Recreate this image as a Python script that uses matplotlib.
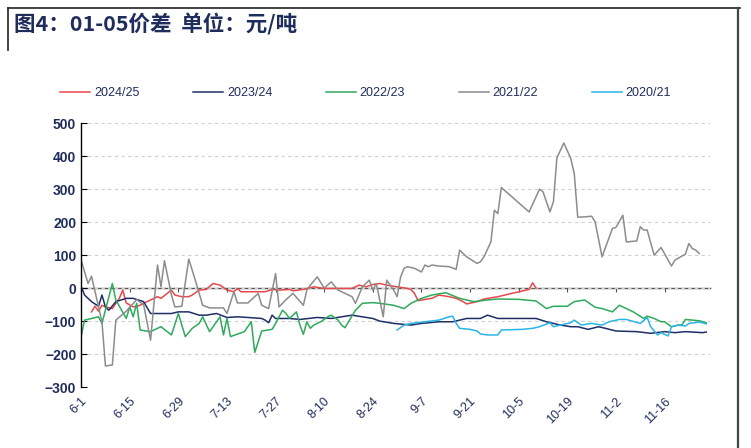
import matplotlib.pyplot as plt
from matplotlib.lines import Line2D

plt.rcParams["font.family"] = ["Liberation Sans", "Noto Sans CJK SC", "DejaVu Sans"]

# 横轴：距 6 月 1 日的天数
tick_days = [0, 14, 28, 42, 56, 70, 84, 98, 112, 126, 140, 154, 168]
tick_labels = ["6-1", "6-15", "6-29", "7-13", "7-27", "8-10", "8-24",
               "9-7", "9-21", "10-5", "10-19", "11-2", "11-16"]

# 2024/25
days_2425 = [3, 4, 5, 6, 7, 9, 11, 12, 13, 15, 17, 19, 22, 23, 26, 27, 29, 31, 32, 34,
             36, 38, 40, 42, 44, 45, 46, 53, 55, 57, 60, 61, 64, 67, 70, 74, 78, 80, 82, 84,
             86, 88, 91, 94, 95, 96, 97, 98, 101, 103, 106, 108, 110, 111, 114, 116, 120,
             124, 129, 130, 131]
vals_2425 = [-72, -55, -70, -52, -57, -62, -31, -6, -45, -57, -52, -41, -26, -31, -6, -21,
             -26, -26, -21, -6, -4, 14, 9, -6, -11, -1, -11, -11, -4, -6, -4, -8, -4, 4, -1,
             -1, -1, 9, 4, 11, 14, 9, 4, -1, -4, -16, -38, -36, -31, -21, -26, -31, -41,
             -48, -41, -33, -26, -16, -4, 16, 0]

# 2023/24
days_2324 = [0, 1, 3, 5, 6, 7, 8, 10, 13, 15, 18, 20, 26, 28, 31, 34, 36, 39, 42, 45, 48,
             52, 53, 54, 55, 56, 60, 63, 68, 72, 75, 78, 81, 84, 86, 90, 95, 98, 103, 107,
             111, 115, 117, 120, 131, 134, 138, 141, 143, 146, 149, 151, 154, 160, 164,
             168, 171, 174, 179, 180]
vals_2324 = [5, -21, -41, -55, -21, -57, -67, -41, -31, -31, -41, -77, -77, -72, -72, -82,
             -82, -77, -89, -87, -89, -92, -97, -105, -82, -92, -92, -95, -89, -92, -87,
             -82, -87, -92, -100, -107, -112, -107, -102, -102, -92, -92, -82, -92, -92,
             -102, -112, -117, -117, -125, -117, -122, -130, -132, -137, -132, -135, -132,
             -135, -133]

# 2022/23
days_2223 = [0, 1, 5, 6, 9, 10, 13, 14, 15, 16, 17, 20, 23, 26, 28, 30, 32, 34, 35, 37,
             40, 41, 42, 43, 47, 49, 50, 52, 55, 56, 58, 59, 60, 61, 62, 63, 64, 65, 66,
             67, 69, 71, 72, 74, 75, 76, 77, 79, 81, 84, 86, 90, 93, 95, 98, 101, 105, 109,
             113, 117, 120, 126, 131, 134, 136, 140, 142, 145, 148, 150, 153, 155, 159, 162,
             163, 165, 167, 168, 170, 172, 173, 174, 176, 178, 180]
vals_2223 = [-147, -97, -87, -107, 14, -36, -92, -57, -87, -46, -127, -132, -117, -142,
             -77, -147, -122, -107, -87, -132, -87, -142, -92, -147, -132, -102, -195, -130,
             -125, -107, -67, -77, -92, -82, -72, -112, -140, -102, -122, -112, -102, -87,
             -82, -97, -112, -120, -102, -67, -46, -44, -46, -52, -62, -46, -31, -21, -14,
             -31, -41, -36, -33, -34, -39, -62, -55, -55, -41, -36, -58, -62, -72, -52, -72,
             -92, -85, -92, -102, -102, -117, -112, -112, -95, -97, -99, -105]

# 2021/22
days_2122 = [0, 2, 3, 6, 7, 9, 10, 13, 16, 18, 20, 22, 23, 24, 26, 27, 29, 31, 33, 35, 37,
             41, 42, 44, 45, 48, 51, 52, 54, 56, 57, 59, 61, 64, 65, 66, 68, 70, 72, 74, 76,
             78, 79, 81, 83, 84, 85, 87, 88, 90, 91, 92, 93, 94, 96, 98, 99, 100, 101, 103,
             106, 108, 109, 111, 114, 115, 116, 118, 119, 120, 121, 129, 132, 133, 135, 136,
             137, 139, 141, 142, 143, 145, 147, 148, 150, 153, 154, 156, 157, 160, 161, 162,
             163, 165, 167, 170, 171, 174, 175, 176, 177, 178]
vals_2122 = [85, 14, 36, -102, -236, -233, -97, -70, -35, -50, -158, 70, 4, 83, -20, -57,
             -55, 88, 20, -52, -60, -60, -77, -11, -45, -45, -16, -52, -62, 44, -57, -35,
             -16, -52, -6, 9, 34, 0, 19, -6, -16, -26, -46, 4, 24, -6, 14, -87, 24, -6, -26,
             34, 60, 65, 60, 49, 70, 65, 70, 67, 65, 57, 115, 95, 75, 80, 95, 140, 236, 226,
             305, 231, 300, 292, 231, 262, 395, 440, 393, 347, 215, 216, 218, 201, 95, 181,
             184, 221, 140, 143, 186, 176, 176, 100, 123, 67, 85, 103, 135, 120, 115, 105]

# 2020/21
days_2021 = [91, 93, 95, 99, 103, 106, 107, 108, 109, 112, 114, 115, 117, 120, 121, 127,
             130, 132, 135, 136, 138, 141, 142, 144, 147, 150, 152, 155, 157, 161, 163, 164,
             166, 167, 169, 170, 172, 174, 175, 178, 180]
vals_2021 = [-127, -112, -107, -102, -97, -87, -85, -107, -122, -125, -130, -139, -142,
             -142, -127, -125, -122, -117, -105, -117, -112, -105, -97, -112, -107, -112,
             -102, -95, -95, -107, -89, -117, -142, -135, -145, -117, -112, -115, -107,
             -103, -108]

series = [
    ("2024/25", days_2425, vals_2425, "#e8474c"),
    ("2023/24", days_2324, vals_2324, "#1f2f66"),
    ("2022/23", days_2223, vals_2223, "#2eaa5c"),
    ("2021/22", days_2122, vals_2122, "#8c8c8c"),
    ("2020/21", days_2021, vals_2021, "#2bb4e6"),
]

navy = "#1f2d5c"
fig = plt.figure(figsize=(7.51, 4.48), dpi=100)
ax = fig.add_axes([0.108, 0.136, 0.837, 0.589])

for name, d, v, c in series:
    ax.plot(d, v, color=c, lw=1.1, label=name)

ymin, ymax = -300, 500
ax.set_xlim(0, 181)
ax.set_ylim(ymin, ymax)
ax.set_yticks(range(-300, 501, 100))
ax.grid(axis="y", color="#d0d0d0", ls=(0, (3, 3)), lw=0.8)
ax.set_axisbelow(True)

for s in ["top", "right", "bottom"]:
    ax.spines[s].set_visible(False)
ax.spines["left"].set_color("black")
ax.spines["left"].set_linewidth(1.0)
ax.tick_params(axis="y", direction="in", length=4, labelsize=10, labelcolor=navy)
for t in ax.get_yticklabels():
    t.set_fontweight("bold")

ax.set_xticks(tick_days)
ax.set_xticklabels(tick_labels, rotation=45, ha="right", va="top",
                   rotation_mode="anchor", fontsize=9, color=navy)
ax.tick_params(axis="x", length=0, pad=6)

# 零轴：虚线 + 刻度
sec = ax.secondary_xaxis((0 - ymin) / (ymax - ymin))
sec.set_xticks(tick_days)
sec.tick_params(axis="x", length=3, labelbottom=False, color="#555555")
sec.spines["bottom"].set_linestyle((0, (1, 1)))
sec.spines["bottom"].set_color("#555555")
sec.spines["bottom"].set_linewidth(1.0)

fig.legend(loc="center", bbox_to_anchor=(0.487, 0.792), ncol=5, frameon=False,
           fontsize=9, handlelength=2.4, handletextpad=0.3, columnspacing=4.3,
           labelcolor=navy)

fig.text(0.019, 0.946, "图4：01-05价差  单位：元/吨", fontsize=15.5, fontweight="bold",
         color=navy, va="center", ha="left",
         family=["Noto Sans CJK SC", "DejaVu Sans"])

# 外框
fig.add_artist(Line2D([0.011, 0.985], [0.982, 0.982], color="#222222", lw=1.2))
fig.add_artist(Line2D([0.011, 0.011], [0.982, 0.888], color="#222222", lw=1.2))
fig.add_artist(Line2D([0.983, 0.983], [0.982, 0.0], color="#444444", lw=1.6))

fig.savefig("out.png", dpi=100)
